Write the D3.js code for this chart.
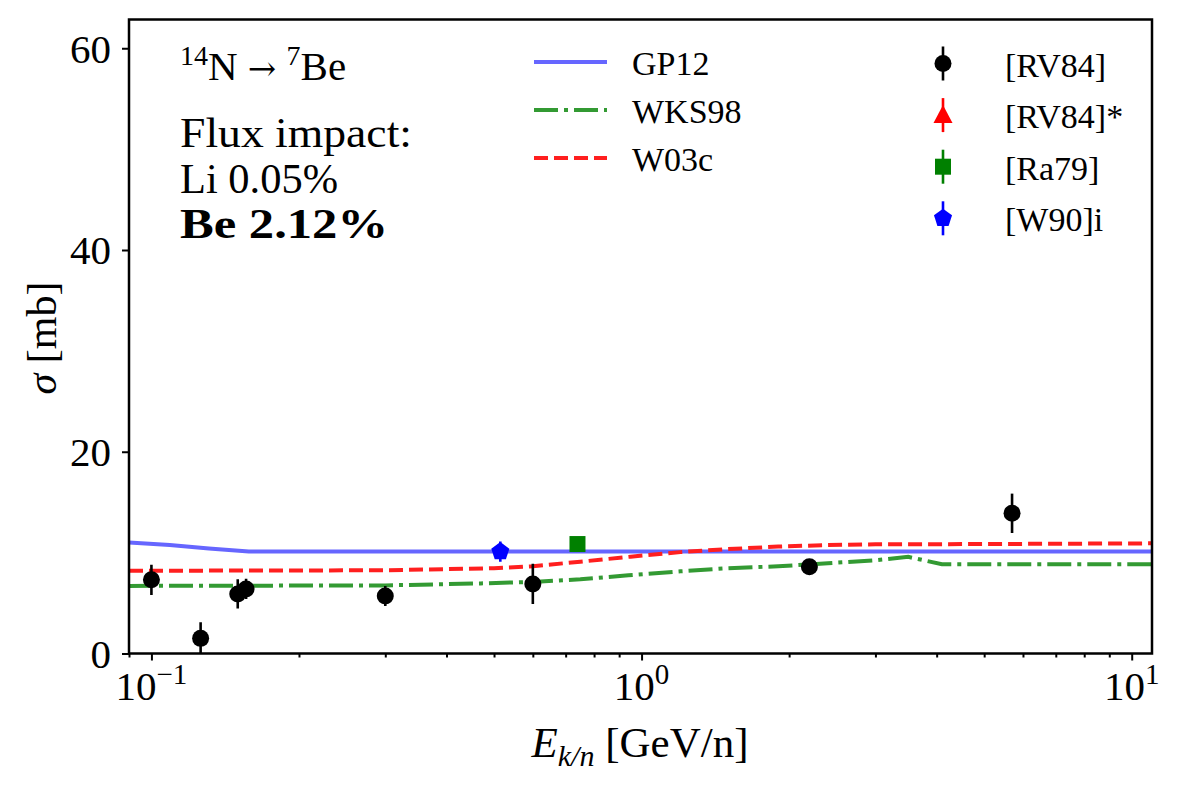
<!DOCTYPE html>
<html><head><meta charset="utf-8">
<script src="https://cdn.jsdelivr.net/npm/d3@7"></script>
<style>body{margin:0;background:#fff}svg{display:block}text{font-family:"Liberation Serif","DejaVu Serif",serif;fill:#000}</style>
</head><body><svg id="c" width="1177" height="787"></svg>
<script>
// ---- data ----
const gp12X = [0.09, 0.109, 0.131, 0.158, 11];
const gp12Y = [11.0, 10.75, 10.4, 10.1, 10.1];
const wks98X = [0.09, 0.3, 0.47, 0.6, 0.75, 0.94, 1.2, 1.5, 1.9, 2.4, 3.0, 3.5, 4.1, 11];
const wks98Y = [6.7, 6.75, 6.95, 7.1, 7.35, 7.75, 8.15, 8.45, 8.65, 8.95, 9.25, 9.58, 8.85, 8.85];
const w03cX = [0.09, 0.3, 0.5, 0.6, 0.75, 0.95, 1.2, 1.5, 1.9, 2.4, 3.0, 5, 11];
const w03cY = [8.2, 8.25, 8.45, 8.65, 9.1, 9.6, 10.05, 10.35, 10.6, 10.75, 10.82, 10.85, 10.92];
const rv84X = [0.1, 0.126, 0.15, 0.156, 0.30, 0.60, 2.2, 5.7];
const rv84Y = [7.3, 1.5, 5.9, 6.4, 5.7, 6.9, 8.6, 13.9];
const rv84E = [1.5, 1.6, 1.45, 1.0, 1.0, 2.0, 0.5, 1.95];
const ra79X = [0.74], ra79Y = [10.85], ra79E = [0.3];
const w90X = [0.515], w90Y = [10.1], w90E = [1.0];
const xMajor = [0.1, 1, 10];
const xMajorExp = ["−1", "0", "1"];
const yTicks = [0, 20, 40, 60];

// ---- layout ----
const svg = d3.select("#c");
const L = 129, R = 1152, T = 19.5, B = 653.5;
const x = d3.scaleLog().domain([0.09, 11]).range([L, R]);
const y = d3.scaleLinear().domain([0, 62.85]).range([B, T]);

svg.append("clipPath").attr("id", "pc").append("rect")
  .attr("x", L).attr("y", T).attr("width", R - L).attr("height", B - T);
const plot = svg.append("g").attr("clip-path", "url(#pc)");

const line = d3.line().x(d => x(d[0])).y(d => y(d[1]));
const LW = 4;
function drawLine(xs, ys, color, dash) {
  plot.append("path").datum(xs.map((v, i) => [v, ys[i]]))
    .attr("d", line).attr("fill", "none").attr("stroke", color)
    .attr("stroke-width", LW).attr("stroke-dasharray", dash);
}
const cBlue = "#6666ff", cGreen = "#339a33", cRed = "#ff1f1f";
const dashDot = "24,6,4,6", dashed = "14,6";
drawLine(gp12X, gp12Y, cBlue, null);
drawLine(wks98X, wks98Y, cGreen, dashDot);
drawLine(w03cX, w03cY, cRed, dashed);

// markers
function marker(g, type, color, cx, cy) {
  if (type === "o") g.append("circle").attr("cx", cx).attr("cy", cy).attr("r", 8.5).attr("fill", color);
  else if (type === "s") g.append("rect").attr("x", cx - 8).attr("y", cy - 8).attr("width", 16).attr("height", 16).attr("fill", color);
  else if (type === "^") g.append("path").attr("d", `M${cx},${cy - 10}L${cx + 9.5},${cy + 8}L${cx - 9.5},${cy + 8}Z`).attr("fill", color);
  else if (type === "p") {
    const pts = d3.range(5).map(i => { const a = -Math.PI / 2 + i * 2 * Math.PI / 5; return [cx + 9.5 * Math.cos(a), cy + 9.5 * Math.sin(a)]; });
    g.append("path").attr("d", "M" + pts.join("L") + "Z").attr("fill", color);
  }
}
function drawPts(xs, ys, es, type, color) {
  xs.forEach((v, i) => {
    plot.append("line").attr("x1", x(v)).attr("x2", x(v))
      .attr("y1", y(ys[i] - es[i])).attr("y2", y(ys[i] + es[i]))
      .attr("stroke", color).attr("stroke-width", 2.6);
    marker(plot, type, color, x(v), y(ys[i]));
  });
}
drawPts(rv84X, rv84Y, rv84E, "o", "#000");
drawPts(w90X, w90Y, w90E, "p", "#0000ff");
drawPts(ra79X, ra79Y, ra79E, "s", "#008000");

// ---- axes ----
const xMinor = [];
for (let d = 0.01; d <= 10; d *= 10) for (let k = 2; k <= 9; k++) { const v = +(k * d).toPrecision(3); if (v >= 0.09 && v <= 11 && ![0.1, 1, 10].includes(v)) xMinor.push(v); }
const gxMinor = svg.append("g").attr("transform", `translate(0,${B})`)
  .call(d3.axisBottom(x).tickValues(xMinor).tickSize(4).tickFormat(""));
const gx = svg.append("g").attr("transform", `translate(0,${B})`)
  .call(d3.axisBottom(x).tickValues(xMajor).tickSize(7).tickFormat(""));
const gy = svg.append("g").attr("transform", `translate(${L},0)`)
  .call(d3.axisLeft(y).tickValues(yTicks).tickSize(7).tickFormat(""));
[gxMinor, gx, gy].forEach(g => { g.select(".domain").remove(); g.selectAll("line").attr("stroke", "#000").attr("stroke-width", 2); });

svg.append("rect").attr("x", L).attr("y", T).attr("width", R - L).attr("height", B - T)
  .attr("fill", "none").attr("stroke", "#000").attr("stroke-width", 2.5);

xMajor.forEach((v, i) => {
  const t = svg.append("text").attr("x", x(v)).attr("y", 700).attr("text-anchor", "middle").attr("font-size", 41);
  t.append("tspan").text("10");
  t.append("tspan").attr("font-size", 29).attr("dy", -16).text(xMajorExp[i]);
});
yTicks.forEach(v => {
  svg.append("text").attr("x", 111).attr("y", y(v)).attr("dy", "0.35em").attr("text-anchor", "end")
    .attr("font-size", 41).text(v);
});

// axis labels
const xl = svg.append("text").attr("x", 640).attr("y", 757).attr("text-anchor", "middle").attr("font-size", 43);
xl.append("tspan").attr("font-style", "italic").text("E");
xl.append("tspan").attr("font-style", "italic").attr("font-size", 30).attr("dy", 9).text("k/n");
xl.append("tspan").attr("dy", -9).text(" [GeV/n]");
const yl = svg.append("text").attr("transform", "translate(56,338) rotate(-90)").attr("text-anchor", "middle").attr("font-size", 42);
yl.append("tspan").attr("font-style", "italic").text("σ");
yl.append("tspan").text(" [mb]");

// annotation
const a1 = svg.append("text").attr("x", 180).attr("y", 80).attr("font-size", 41);
a1.append("tspan").attr("font-size", 28).attr("dy", -15).text("14");
a1.append("tspan").attr("dy", 15).text("N ");
a1.append("tspan").attr("font-family", "DejaVu Serif").attr("font-size", 34).text("→");
a1.append("tspan").text(" ");
a1.append("tspan").attr("font-size", 28).attr("dy", -15).text("7");
a1.append("tspan").attr("dy", 15).text("Be");
svg.append("text").attr("x", 180).attr("y", 147).attr("font-size", 42)
  .attr("textLength", 232).attr("lengthAdjust", "spacingAndGlyphs").text("Flux impact:");
svg.append("text").attr("x", 180).attr("y", 193).attr("font-size", 42)
  .attr("textLength", 158).attr("lengthAdjust", "spacingAndGlyphs").text("Li 0.05%");
svg.append("text").attr("x", 180).attr("y", 238).attr("font-size", 42).attr("font-weight", "bold")
  .attr("textLength", 208).attr("lengthAdjust", "spacingAndGlyphs").text("Be 2.12%");

// legend: models
const legLines = [["GP12", cBlue, null], ["WKS98", cGreen, dashDot], ["W03c", cRed, dashed]];
legLines.forEach((d, i) => {
  const yy = 62 + i * 48;
  svg.append("line").attr("x1", 534).attr("x2", 607).attr("y1", yy).attr("y2", yy)
    .attr("stroke", d[1]).attr("stroke-width", LW).attr("stroke-dasharray", d[2]);
  svg.append("text").attr("x", 632).attr("y", yy + 12.5).attr("font-size", 34).text(d[0]);
});
// legend: data
const legPts = [["[RV84]", "o", "#000"], ["[RV84]*", "^", "#ff0000"], ["[Ra79]", "s", "#008000"], ["[W90]i", "p", "#0000ff"]];
legPts.forEach((d, i) => {
  const yy = 63.5 + i * 51.6;
  const g = svg.append("g");
  g.append("line").attr("x1", 943).attr("x2", 943).attr("y1", yy - 17).attr("y2", yy + 17)
    .attr("stroke", d[2]).attr("stroke-width", 2.6);
  marker(g, d[1], d[2], 943, yy);
  svg.append("text").attr("x", 1005).attr("y", yy + 13).attr("font-size", 34).text(d[0]);
});
</script></body></html>
